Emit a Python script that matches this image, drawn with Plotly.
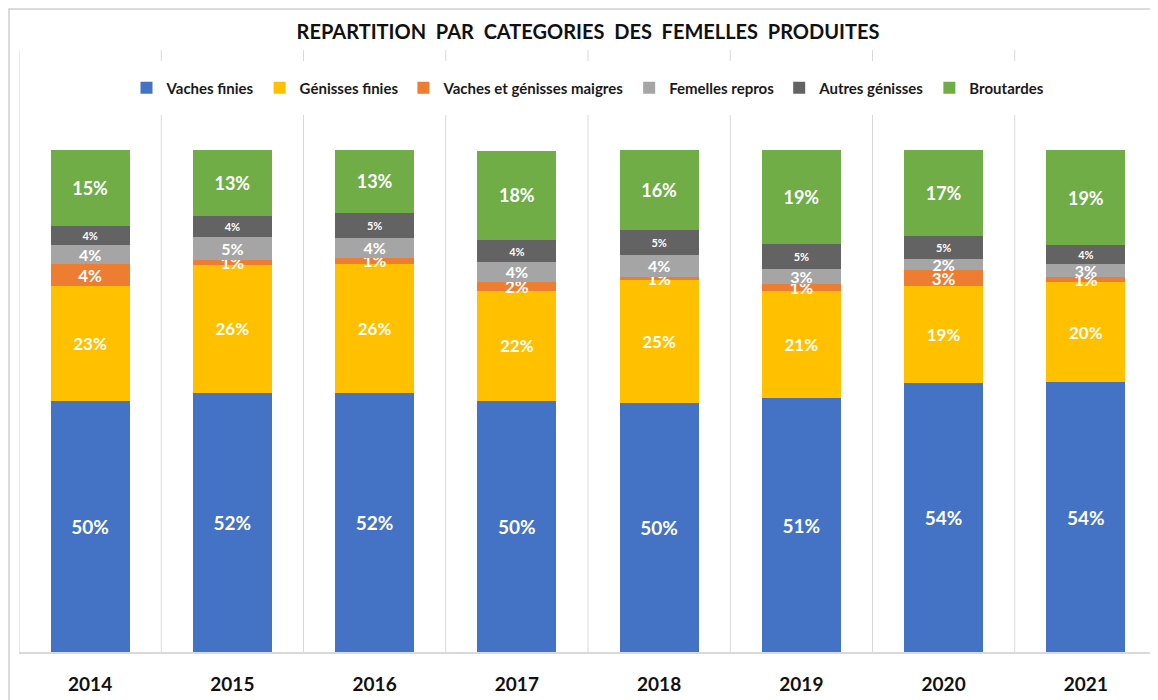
import plotly.graph_objects as go

years = ["2014", "2015", "2016", "2017", "2018", "2019", "2020", "2021"]

vaches_finies = [50.1, 51.6, 51.6, 50.0, 49.6, 50.6, 53.6, 53.8]
genisses_finies = [22.8, 25.6, 25.8, 22.0, 24.6, 21.3, 19.4, 19.9]
vaches_genisses_maigres = [4.4, 0.9, 1.2, 1.8, 0.6, 1.4, 3.05, 1.0]
femelles_repros = [3.8, 4.6, 4.0, 3.9, 4.4, 3.05, 2.3, 2.7]
autres_genisses = [3.8, 4.25, 4.9, 4.4, 5.0, 4.9, 4.65, 3.7]
broutardes = [15.2, 13.1, 12.6, 17.8, 15.8, 18.8, 17.1, 18.9]

series = [
    ("Vaches finies", vaches_finies, "#4472C4", 19),
    ("Génisses finies", genisses_finies, "#FFC000", 17),
    ("Vaches et génisses maigres", vaches_genisses_maigres, "#ED7D31", 17),
    ("Femelles repros", femelles_repros, "#A5A5A5", 16),
    ("Autres génisses", autres_genisses, "#636363", 11),
    ("Broutardes", broutardes, "#70AD47", 18),
]

FONT = "Lato"
xs = list(range(len(years)))

# page body adds an 8px offset; plot area targeted at x 19..1157, y 50..652 on screen
W, H = 1150, 692
PL, PT, PW, PH = 11, 42, 1138, 602

fig = go.Figure()
for name, vals, color, fs in series:
    fig.add_trace(go.Bar(
        name=name, x=xs, y=vals,
        marker=dict(color=color, line=dict(width=0)),
        texttemplate="%{y:.0f}%",
        textposition="inside",
        insidetextanchor="middle",
        textangle=0,
        constraintext="none",
        textfont=dict(family=FONT, size=fs, color="white", weight="bold"),
        hoverinfo="skip",
    ))


def py(screen_y):
    return (652 - screen_y) / PH


def px(screen_x):
    return (screen_x - 19) / PW


shapes = []
for i in range(len(years) + 1):
    shapes.append(dict(type="line", xref="x", yref="paper",
                       x0=i - 0.5, x1=i - 0.5, y0=0, y1=1,
                       line=dict(color="#D9D9D9", width=1), layer="below"))
shapes.append(dict(type="rect", xref="paper", yref="paper",
                   x0=px(146), x1=px(1052), y0=py(115), y1=py(61),
                   fillcolor="white", line=dict(width=0), layer="above"))
shapes.append(dict(type="rect", xref="paper", yref="paper",
                   x0=px(9), x1=px(1175), y0=py(720), y1=py(9),
                   fillcolor="rgba(0,0,0,0)", line=dict(color="#D0D0D0", width=1.5),
                   layer="above"))

fig.update_layout(
    width=W, height=H,
    margin=dict(l=PL, r=W - PL - PW, t=PT, b=H - PT - PH),
    paper_bgcolor="white", plot_bgcolor="white",
    barmode="stack", bargap=0.445,
    showlegend=True,
    title=dict(text="REPARTITION\u00a0 PAR\u00a0 CATEGORIES\u00a0 DES\u00a0 FEMELLES\u00a0 PRODUITES",
               x=0.5, xref="paper", xanchor="center",
               y=1 - 24 / H, yref="container", yanchor="middle",
               font=dict(family=FONT, size=20, color="#111111", weight="bold")),
    legend=dict(orientation="h", x=0.5, xanchor="center",
                y=py(88), yanchor="middle",
                bgcolor="rgba(0,0,0,0)", itemwidth=30,
                traceorder="normal",
                font=dict(family=FONT, size=15, color="#1a1a1a", weight="bold")),
    xaxis=dict(tickmode="array", tickvals=xs, ticktext=years,
               range=[-0.5, len(years) - 0.5],
               showgrid=False, zeroline=False,
               showline=True, linecolor="#D9D9D9", linewidth=1.5,
               ticks="outside", ticklen=14, tickcolor="rgba(0,0,0,0)",
               tickfont=dict(family=FONT, size=19, color="#111111", weight="bold")),
    yaxis=dict(range=[0, 120], visible=False, showgrid=False, zeroline=False),
    shapes=shapes,
)

fig.write_html("out.html")
